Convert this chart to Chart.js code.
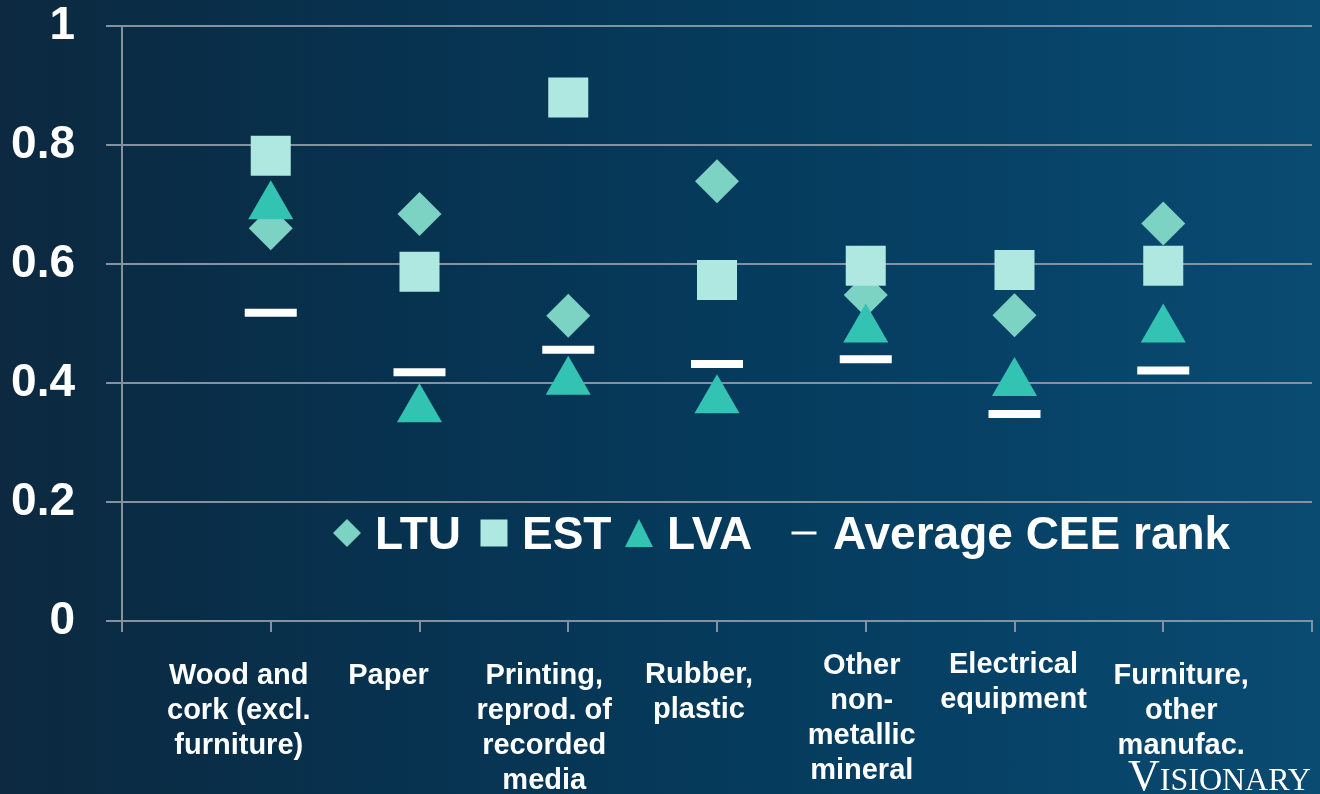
<!DOCTYPE html>
<html>
<head>
<meta charset="utf-8">
<script src="https://cdn.jsdelivr.net/npm/chart.js@4.4.1/dist/chart.umd.min.js"></script>
<style>
  html, body { margin: 0; padding: 0; }
  body {
    width: 1320px; height: 794px; overflow: hidden; position: relative;
    background: linear-gradient(90deg, #0c2940 0%, #07324f 30%, #053e61 65%, #0a4b72 100%);
    font-family: "Liberation Sans", Arial, sans-serif;
  }
  #chart { position: absolute; left: 0; top: 0; }
  #logo {
    position: absolute; left: 1128px; top: 754px;
    font-family: "Liberation Serif", "Times New Roman", serif;
    color: #fff; font-size: 44px; line-height: 44px; white-space: nowrap;
  }
  #logo span { font-size: 32px; }
</style>
</head>
<body>
<canvas id="chart" width="1320" height="794"></canvas>
<div id="logo">V<span>ISIONARY</span></div>
<script>
const categories = [
  ['Wood and', 'cork (excl.', 'furniture)'],
  ['Paper'],
  ['Printing,', 'reprod. of', 'recorded', 'media'],
  ['Rubber,', 'plastic'],
  ['Other', 'non-', 'metallic', 'mineral'],
  ['Electrical', 'equipment'],
  ['Furniture,', 'other', 'manufac.']
];
const ltu = [0.660, 0.684, 0.513, 0.739, 0.548, 0.514, 0.668];
const est = [0.782, 0.587, 0.880, 0.573, 0.597, 0.590, 0.597];
const lva = [0.697, 0.356, 0.402, 0.371, 0.490, 0.400, 0.490];
const ceeAvg = [0.518, 0.418, 0.456, 0.432, 0.440, 0.348, 0.421];
const yTickLabels = ['0', '0.2', '0.4', '0.6', '0.8', '1'];

// hand nudges for the category captions (they sit off the tick marks in the original)
const captionNudge = [[-32, 0], [-31, 0], [-24, 0], [-18, -1], [-4, -10], [-1, -11], [18, 0]];

const gridGray = '#8391a0';
const colLtu = '#7dd3c3';
const colEst = '#aee8e1';
const colLva = '#33c3b3';

const toPoints = arr => arr.map((v, i) => ({ x: i + 1, y: v }));

function drawMarker(ctx, kind, x, y, size, color) {
  ctx.save();
  ctx.fillStyle = color;
  ctx.strokeStyle = color;
  ctx.beginPath();
  if (kind === 'diamond') {
    ctx.moveTo(x - size / 2, y); ctx.lineTo(x, y - size / 2);
    ctx.lineTo(x + size / 2, y); ctx.lineTo(x, y + size / 2);
    ctx.closePath(); ctx.fill();
  } else if (kind === 'square') {
    ctx.rect(x - size / 2, y - size / 2, size, size); ctx.fill();
  } else if (kind === 'triangle') {
    ctx.moveTo(x, y - size / 2); ctx.lineTo(x + size / 2, y + size / 2);
    ctx.lineTo(x - size / 2, y + size / 2); ctx.closePath(); ctx.fill();
  } else {
    ctx.lineWidth = 3;
    ctx.moveTo(x - size / 2, y); ctx.lineTo(x + size / 2, y); ctx.stroke();
  }
  ctx.restore();
}

const captionPlugin = {
  id: 'captions',
  afterDraw(chart) {
    const ctx = chart.ctx;
    const xs = chart.scales.x;
    const base = chart.chartArea.bottom + 63;
    ctx.save();
    ctx.fillStyle = '#ffffff';
    ctx.font = 'bold 29px "Liberation Sans", Arial, sans-serif';
    ctx.textAlign = 'center';
    ctx.textBaseline = 'alphabetic';
    categories.forEach((lines, i) => {
      const cx = xs.getPixelForValue(i + 1) + captionNudge[i][0];
      lines.forEach((t, j) => ctx.fillText(t, cx, base + captionNudge[i][1] + j * 35));
    });
    ctx.restore();
  }
};

const legendPlugin = {
  id: 'insideLegend',
  afterDraw(chart) {
    const ctx = chart.ctx;
    const items = [
      { kind: 'diamond', size: 28, mx: 347, tx: 375, color: colLtu, label: chart.data.datasets[0].label },
      { kind: 'square', size: 27, mx: 494, tx: 522, color: colEst, label: chart.data.datasets[1].label },
      { kind: 'triangle', size: 28, mx: 639, tx: 667, color: colLva, label: chart.data.datasets[2].label },
      { kind: 'dash', size: 25, mx: 804, tx: 833, color: '#ffffff', label: chart.data.datasets[3].label }
    ];
    ctx.save();
    ctx.font = 'bold 46px "Liberation Sans", Arial, sans-serif';
    ctx.textBaseline = 'alphabetic';
    items.forEach(it => {
      drawMarker(ctx, it.kind, it.mx, 533, it.size, it.color);
      ctx.fillStyle = '#ffffff';
      ctx.fillText(it.label, it.tx, 549);
    });
    ctx.restore();
  }
};

// keep the plot frame where the layout padding puts it
const noScalePadding = scale => {
  scale.paddingLeft = 0; scale.paddingRight = 0;
  scale.paddingTop = 0; scale.paddingBottom = 0;
};

new Chart(document.getElementById('chart'), {
  type: 'scatter',
  data: {
    datasets: [
      { label: 'LTU', data: toPoints(ltu), pointStyle: 'rectRot', pointRadius: 22,
        backgroundColor: colLtu, borderWidth: 0, order: 4 },
      { label: 'EST', data: toPoints(est), pointStyle: 'rect', pointRadius: 28.3,
        backgroundColor: colEst, borderWidth: 0, order: 3 },
      { label: 'LVA', data: toPoints(lva), pointStyle: 'triangle', pointRadius: 26,
        backgroundColor: colLva, borderWidth: 0, order: 2 },
      { label: 'Average CEE rank', data: toPoints(ceeAvg), pointStyle: 'line', pointRadius: 26,
        backgroundColor: '#ffffff', borderColor: '#ffffff', borderWidth: 8, order: 1 }
    ]
  },
  options: {
    responsive: false,
    animation: false,
    events: [],
    layout: { autoPadding: false, padding: { left: 11, right: 8, top: 26, bottom: 162 } },
    plugins: { legend: { display: false }, tooltip: { enabled: false } },
    scales: {
      x: {
        type: 'linear', min: 0, max: 8,
        afterFit: noScalePadding,
        ticks: { stepSize: 1, display: false },
        grid: { drawOnChartArea: false, drawTicks: true, tickLength: 11, color: gridGray, lineWidth: 2 },
        border: { display: true, color: gridGray, width: 2 }
      },
      y: {
        min: 0, max: 1,
        afterFit: scale => { noScalePadding(scale); scale.width = 111; },
        ticks: {
          stepSize: 0.2, padding: 31, color: '#ffffff',
          font: { family: '"Liberation Sans", Arial, sans-serif', size: 46, weight: 'bold', lineHeight: 1 },
          callback: (v, i) => yTickLabels[i]
        },
        grid: { color: gridGray, lineWidth: 2, tickLength: 16 },
        border: { display: true, color: gridGray, width: 2 }
      }
    }
  },
  plugins: [captionPlugin, legendPlugin]
});
</script>
</body>
</html>
